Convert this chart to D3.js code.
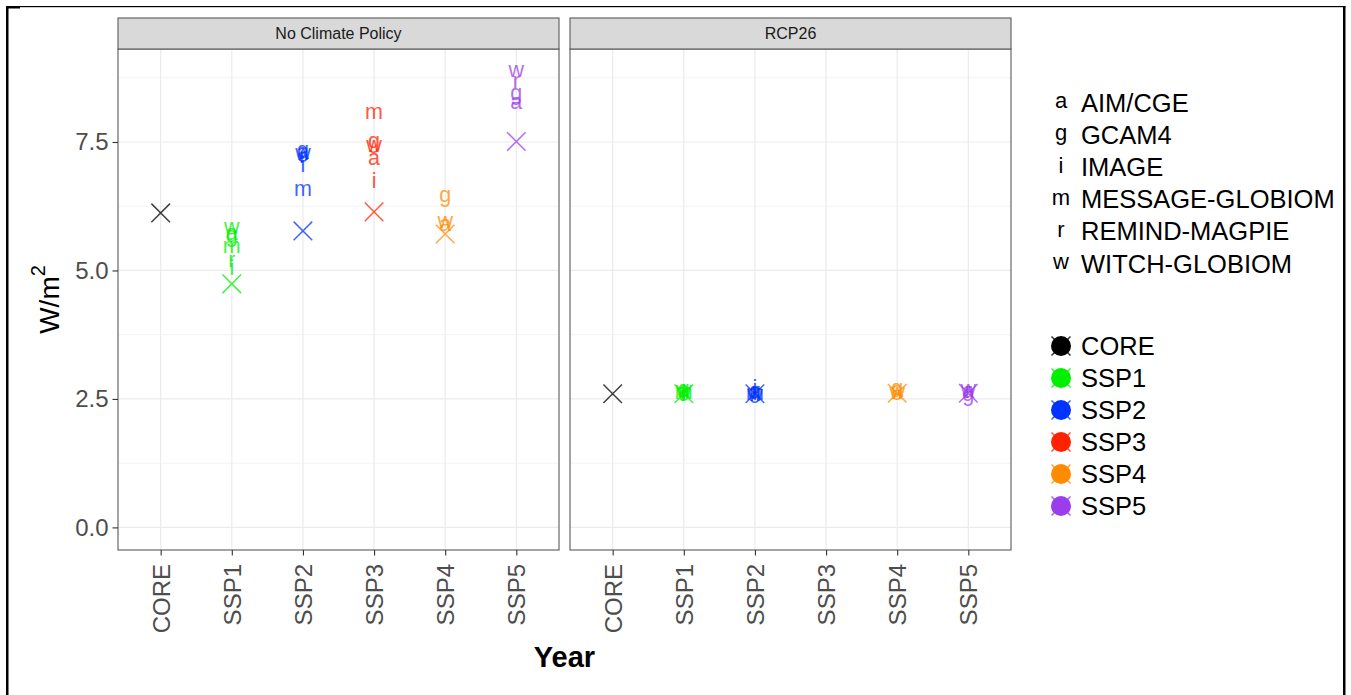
<!DOCTYPE html>
<html><head><meta charset="utf-8">
<script src="https://cdn.jsdelivr.net/npm/d3@7"></script>
<style>
body{margin:0;background:#fff;}
svg{display:block;font-family:"Liberation Sans",Arial,Helvetica,sans-serif;}
</style>
</head><body>
<svg id="chart" width="1351" height="695"></svg>
<script>
// ---------------- data ----------------
const scenarios = ["CORE","SSP1","SSP2","SSP3","SSP4","SSP5"];
const policies = ["No Climate Policy","RCP26"];
const models = ["AIM/CGE","GCAM4","IMAGE","MESSAGE-GLOBIOM","REMIND-MAGPIE","WITCH-GLOBIOM"];
const modelLetters = ["a","g","i","m","r","w"];
const scenarioColors = ["#000000","#00F000","#0033FF","#FF2200","#FF8C00","#9B3DEB"];
const yTicks = [0, 2.5, 5, 7.5];
const yMinorTicks = [1.25, 3.75, 6.25, 8.75];
const yDomain = [-0.44, 9.31];

// X markers (per scenario, CORE..SSP5)
const markerNoPolicy = [6.12, 4.74, 5.77, 6.14, 5.71, 7.51];
const markerRCP26    = [2.60, 2.60, 2.60, null, 2.61, 2.61];

// model values, rows = scenarios CORE..SSP5, columns = models a,g,i,m,r,w
const modelNoPolicy = [
  [null, null, null, null, null, null],
  [5.70, 5.67, 5.03, 5.45, 5.17, 5.81],
  [7.28, 7.31, 7.02, 6.55, 7.20, 7.25],
  [7.17, 7.50, 6.72, 8.05, null, 7.42],
  [5.88, 6.44, null, null, null, 5.93],
  [8.25, 8.42, null, null, 8.66, 8.87]
];
const modelRCP26 = [
  [null, null, null, null, null, null],
  [2.63, 2.66, 2.58, 2.60, 2.57, 2.64],
  [2.60, 2.63, 2.68, 2.58, 2.62, 2.57],
  [null, null, null, null, null, null],
  [2.64, 2.68, null, null, null, 2.61],
  [2.62, 2.56, null, null, 2.63, 2.66]
];
const markers = [markerNoPolicy, markerRCP26];
const modelVals = [modelNoPolicy, modelRCP26];

// ---------------- layout ----------------
const svg = d3.select("#chart");
const panelTop = 49, panelBottom = 550, stripTop = 18;
const panels = [[118, 559], [570, 1011]];
const y = d3.scaleLinear().domain(yDomain).range([panelBottom, panelTop]);
const alpha = 0.75;
const xPath = s => `M${-s},${-s}L${s},${s}M${-s},${s}L${s},${-s}`;

panels.forEach((rng, p) => {
  const x = d3.scalePoint().domain(scenarios).range(rng).padding(0.6);
  const g = svg.append("g");
  g.append("rect").attr("x", rng[0]).attr("y", panelTop)
    .attr("width", rng[1]-rng[0]).attr("height", panelBottom-panelTop).attr("fill", "#fff");
  // grid
  g.selectAll(".minor").data(yMinorTicks).join("line")
    .attr("x1", rng[0]).attr("x2", rng[1]).attr("y1", d => y(d)).attr("y2", d => y(d))
    .attr("stroke", "#EBEBEB").attr("stroke-width", 0.6);
  g.selectAll(".majory").data(yTicks).join("line")
    .attr("x1", rng[0]).attr("x2", rng[1]).attr("y1", d => y(d)).attr("y2", d => y(d))
    .attr("stroke", "#EBEBEB").attr("stroke-width", 1.2);
  g.selectAll(".majorx").data(scenarios).join("line")
    .attr("x1", d => x(d)).attr("x2", d => x(d)).attr("y1", panelTop).attr("y2", panelBottom)
    .attr("stroke", "#EBEBEB").attr("stroke-width", 1.2);

  // X markers
  const mk = markers[p].map((v, i) => ({s: scenarios[i], v, c: scenarioColors[i]})).filter(d => d.v != null);
  g.selectAll(".mk").data(mk).join("path")
    .attr("transform", d => `translate(${x(d.s)},${y(d.v)})`)
    .attr("d", xPath(9.3)).attr("fill", "none")
    .attr("stroke", d => d.c).attr("stroke-width", 1.5).attr("opacity", alpha);

  // model letters
  const lt = [];
  modelVals[p].forEach((row, i) => row.forEach((v, j) => {
    if (v != null) lt.push({s: scenarios[i], v, l: modelLetters[j], c: scenarioColors[i]});
  }));
  g.selectAll(".lt").data(lt).join("text")
    .attr("x", d => x(d.s)).attr("y", d => y(d.v)).attr("dy", "0.26em")
    .attr("text-anchor", "middle").attr("font-size", 21.5)
    .attr("fill", d => d.c).attr("opacity", alpha).text(d => d.l);

  // border
  g.append("rect").attr("x", rng[0]).attr("y", panelTop)
    .attr("width", rng[1]-rng[0]).attr("height", panelBottom-panelTop)
    .attr("fill", "none").attr("stroke", "#5A5A5A").attr("stroke-width", 1.1);
  // strip
  g.append("rect").attr("x", rng[0]).attr("y", stripTop)
    .attr("width", rng[1]-rng[0]).attr("height", panelTop-stripTop)
    .attr("fill", "#D9D9D9").attr("stroke", "#5A5A5A").attr("stroke-width", 1.1);
  g.append("text").attr("x", (rng[0]+rng[1])/2).attr("y", (stripTop+panelTop)/2).attr("dy", "0.35em")
    .attr("text-anchor", "middle").attr("font-size", 16).attr("fill", "#1A1A1A").text(policies[p]);

  // x axis
  const xa = svg.append("g").attr("transform", `translate(0,${panelBottom})`)
    .call(d3.axisBottom(x).tickSize(5.5).tickSizeOuter(0));
  xa.select(".domain").remove();
  xa.selectAll(".tick line").attr("stroke", "#333").attr("stroke-width", 1.1);
  xa.selectAll(".tick text")
    .attr("transform", "rotate(-90)").attr("x", -14).attr("y", 0).attr("dy", "0.35em")
    .attr("text-anchor", "end").attr("font-size", 24).attr("fill", "#4D4D4D")
    .attr("font-family", "'Liberation Sans',Arial,sans-serif");

  if (p === 0) {
    const ya = svg.append("g").attr("transform", `translate(${rng[0]},0)`)
      .call(d3.axisLeft(y).tickValues(yTicks).tickFormat(d3.format(".1f")).tickSize(5.5).tickPadding(4));
    ya.select(".domain").remove();
    ya.selectAll(".tick line").attr("stroke", "#333").attr("stroke-width", 1.1);
    ya.selectAll(".tick text").attr("font-size", 24).attr("fill", "#4D4D4D")
      .attr("font-family", "'Liberation Sans',Arial,sans-serif");
  }
});

// axis titles
svg.append("text").attr("x", (panels[0][0]+panels[1][1])/2).attr("y", 667)
  .attr("text-anchor", "middle").attr("font-size", 29).attr("font-weight", "bold").attr("fill", "#000").text("Year");
const yt = svg.append("text").attr("transform", `translate(59,${(panelTop+panelBottom)/2}) rotate(-90)`)
  .attr("text-anchor", "middle").attr("font-size", 28).attr("fill", "#000");
yt.append("tspan").text("W/m");
yt.append("tspan").attr("font-size", 20).attr("dy", "-0.7em").text("2");

// legend 1: models
const lg1 = svg.append("g");
const l1y = d3.scalePoint().domain(models).range([102.5, 263.5]);
lg1.selectAll(".k").data(models).join("text")
  .attr("x", 1061).attr("y", d => l1y(d)).attr("dy", "0.26em").attr("text-anchor", "middle")
  .attr("font-size", 22).attr("fill", "#000").text((d, i) => modelLetters[i]);
lg1.selectAll(".lab").data(models).join("text")
  .attr("x", 1081).attr("y", d => l1y(d)).attr("dy", "0.36em")
  .attr("font-size", 25.5).attr("fill", "#000").text(d => d);

// legend 2: scenarios
const lg2 = svg.append("g");
const l2y = d3.scalePoint().domain(scenarios).range([346, 506]);
lg2.selectAll(".kx").data(scenarios).join("path")
  .attr("transform", d => `translate(1061,${l2y(d)})`).attr("d", xPath(9.5))
  .attr("fill", "none").attr("stroke", (d, i) => scenarioColors[i]).attr("stroke-width", 1.5).attr("opacity", 0.8);
lg2.selectAll(".kd").data(scenarios).join("circle")
  .attr("cx", 1061).attr("cy", d => l2y(d)).attr("r", 10)
  .attr("fill", (d, i) => scenarioColors[i]);
lg2.selectAll(".lab").data(scenarios).join("text")
  .attr("x", 1081).attr("y", d => l2y(d)).attr("dy", "0.36em")
  .attr("font-size", 25.5).attr("fill", "#000").text(d => d);

// outer frame
svg.append("rect").attr("x", 6).attr("y", 6).attr("width", 1339.5).attr("height", 1.2).attr("fill", "#000");
svg.append("rect").attr("x", 6).attr("y", 6).attr("width", 14).attr("height", 2.5).attr("fill", "#000");
svg.append("rect").attr("x", 6).attr("y", 6).attr("width", 2.5).attr("height", 689).attr("fill", "#000");
svg.append("rect").attr("x", 1343).attr("y", 6).attr("width", 2.5).attr("height", 689).attr("fill", "#000");
</script>
</body></html>
